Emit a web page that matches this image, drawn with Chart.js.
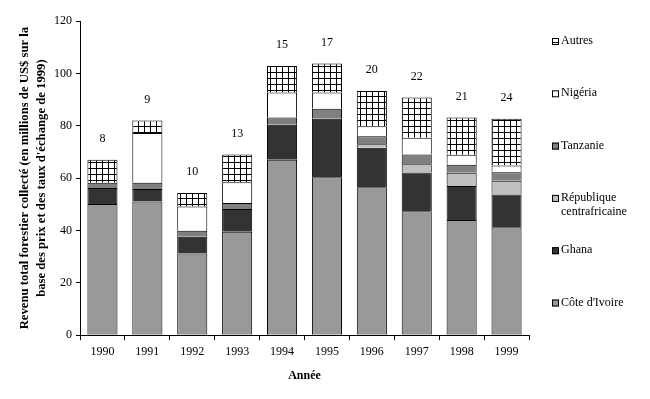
<!DOCTYPE html>
<html>
<head>
<meta charset="utf-8">
<script src="https://cdn.jsdelivr.net/npm/chart.js@4.4.1/dist/chart.umd.min.js"></script>
<style>
body { margin: 0; background: #fff; }
</style>
</head>
<body>
<canvas id="myChart" width="650" height="399"></canvas>
<script>
// data (millions US$)
var years = ['1990', '1991', '1992', '1993', '1994', '1995', '1996', '1997', '1998', '1999'];
var coteIvoire = [50.1, 51.1, 31.2, 39.5, 67.0, 60.3, 56.5, 47.3, 44.0, 41.2];
var ghana = [6.1, 4.7, 6.4, 8.7, 13.4, 22.4, 15.1, 14.8, 13.0, 12.5];
var centrafrique = [0, 0, 0, 0, 0, 0, 1.3, 3.2, 5.0, 5.3];
var tanzanie = [2.0, 2.4, 2.3, 2.3, 2.7, 3.8, 3.1, 3.7, 3.1, 3.2];
var nigeria = [0, 19.0, 9.3, 7.9, 9.6, 6.2, 3.8, 6.4, 3.8, 2.6];
var autres = [8.8, 4.8, 5.1, 10.6, 10.1, 11.1, 13.5, 15.4, 14.2, 17.9];
var countLabels = ['8', '9', '10', '13', '15', '17', '20', '22', '21', '24'];
var yTicks = [0, 20, 40, 60, 80, 100, 120];
var yTitle = ['Revenu total forestier collecté (en millions de US$ sur la', "base des prix et des taux d'échange de 1999)"];

var serif = "'Liberation Serif', 'Times New Roman', serif";

// grid hatch for "Autres"
var pc = document.createElement('canvas');
pc.width = 6; pc.height = 6;
var pctx = pc.getContext('2d');
pctx.fillStyle = '#fff';
pctx.fillRect(0, 0, 6, 6);
pctx.fillStyle = '#000';
pctx.fillRect(0, 0, 6, 1);
pctx.fillRect(0, 0, 1, 6);
var hatch = document.getElementById('myChart').getContext('2d').createPattern(pc, 'repeat');

var legendPlugin = {
    id: 'sideLegend',
    afterDraw: function(chart) {
        var ctx = chart.ctx;
        var ds = chart.data.datasets;
        ctx.save();
        ctx.font = '12px ' + serif;
        ctx.textBaseline = 'middle';
        ctx.textAlign = 'left';
        var y = 41;
        for (var i = ds.length - 1; i >= 0; i--) {
            ctx.fillStyle = ds[i].backgroundColor;
            ctx.fillRect(552, y - 3, 7, 7);
            ctx.strokeStyle = '#000';
            ctx.lineWidth = 1;
            ctx.strokeRect(552.5, y - 2.5, 6, 6);
            ctx.fillStyle = '#000';
            var lines = [].concat(ds[i].legendLines || ds[i].label);
            for (var k = 0; k < lines.length; k++) {
                ctx.fillText(lines[k], 561, y + k * 14);
            }
            y += 52.3;
        }
        // y axis title, two centred lines
        var area = chart.chartArea;
        var cy = (area.top + area.bottom) / 2;
        ctx.font = 'bold 12.7px ' + serif;
        ctx.textAlign = 'center';
        ctx.translate(25, cy);
        ctx.rotate(-Math.PI / 2);
        ctx.fillText(yTitle[0], 0, 0);
        ctx.fillText(yTitle[1], 0, 17);
        ctx.restore();
    }
};

var countPlugin = {
    id: 'countLabels',
    afterDatasetsDraw: function(chart) {
        var ctx = chart.ctx;
        var meta = chart.getDatasetMeta(chart.data.datasets.length - 1);
        ctx.save();
        ctx.font = '12px ' + serif;
        ctx.fillStyle = '#000';
        ctx.textAlign = 'center';
        ctx.textBaseline = 'middle';
        meta.data.forEach(function(bar, i) {
            ctx.fillText(countLabels[i], bar.x, bar.y - 21);
        });
        ctx.restore();
    }
};

function ds(label, data, color) {
    return {
        label: label,
        data: data,
        backgroundColor: color,
        borderColor: '#000',
        borderWidth: function(c) { return c.raw ? 1 : 0; },
        borderSkipped: 'bottom',
        barPercentage: 0.67,
        categoryPercentage: 1.0
    };
}

var rca = ds('République centrafricaine', centrafrique, '#c0c0c0');
rca.legendLines = ['République', 'centrafricaine'];

var myChart = new Chart(document.getElementById('myChart'), {
    type: 'bar',
    data: {
        labels: years,
        datasets: [
            ds("Côte d'Ivoire", coteIvoire, '#999999'),
            ds('Ghana', ghana, '#333333'),
            rca,
            ds('Tanzanie', tanzanie, '#808080'),
            ds('Nigéria', nigeria, '#ffffff'),
            ds('Autres', autres, hatch)
        ]
    },
    options: {
        responsive: false,
        animation: false,
        devicePixelRatio: 1,
        layout: { padding: { left: 50, right: 121, top: 21, bottom: 12 } },
        plugins: {
            legend: { display: false },
            tooltip: { enabled: false }
        },
        scales: {
            x: {
                stacked: true,
                grid: { drawOnChartArea: false, color: '#000', tickLength: 5, offset: true },
                border: { color: '#000' },
                ticks: { color: '#000', font: { family: serif, size: 12 }, padding: 4 },
                title: { display: true, text: 'Année', color: '#000', font: { family: serif, size: 12, weight: 'bold' }, padding: { top: 6 } }
            },
            y: {
                stacked: true,
                min: 0,
                max: 120,
                afterBuildTicks: function(axis) {
                    axis.ticks = yTicks.map(function(v) { return { value: v }; });
                },
                grid: { drawOnChartArea: false, color: '#000', tickLength: 4 },
                border: { color: '#000' },
                ticks: { color: '#000', font: { family: serif, size: 12 }, padding: 4 }
            }
        }
    },
    plugins: [legendPlugin, countPlugin]
});
</script>
</body>
</html>
